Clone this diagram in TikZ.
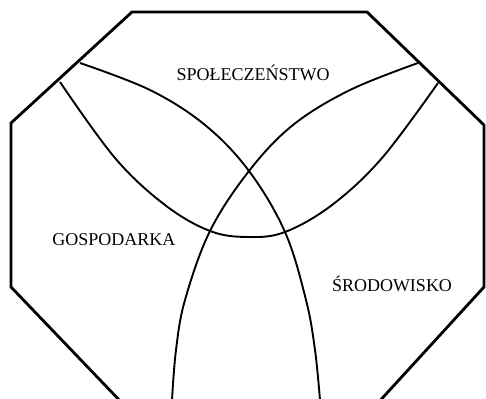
\documentclass[tikz,border=0pt]{standalone}
\usepackage{fontspec}
\setmainfont{Liberation Serif}
\begin{document}
\begin{tikzpicture}[x=1pt,y=-1pt,
  frame/.style={line width=2.8pt,line join=miter},
  arc/.style={line width=1.9pt},
  lbl/.style={font=\fontsize{18}{20}\selectfont,inner sep=0pt}]
\useasboundingbox (0,0) rectangle (486,398);
\begin{scope}
\clip (0,0) rectangle (486,398);
\draw[frame] (124,405) -- (11,287) -- (11,123) -- (132,12) -- (367,12) -- (484,125) -- (484,287) -- (376,405);
\draw[arc] plot[smooth,tension=0.6] coordinates {(60,82) (115,158) (165,205) (210,231) (248,237) (285,232) (332,205) (382,158) (438,83)};
\draw[arc] plot[smooth,tension=0.6] coordinates {(80,63) (150,90) (205,125) (249,171) (285,232) (306,300) (315,350) (320,400)};
\draw[arc] plot[smooth,tension=0.6] coordinates {(418,63) (350,90) (293,125) (249,171) (210,231) (185,300) (176,350) (172,400)};
\end{scope}
\node[lbl] (spo) at (253,73) {SPOŁECZEŃSTWO};
\node[lbl] (gos) at (114,240) {GOSPODARKA};
\node[lbl] (sro) at (392,284) {ŚRODOWISKO};
\end{tikzpicture}
\end{document}
